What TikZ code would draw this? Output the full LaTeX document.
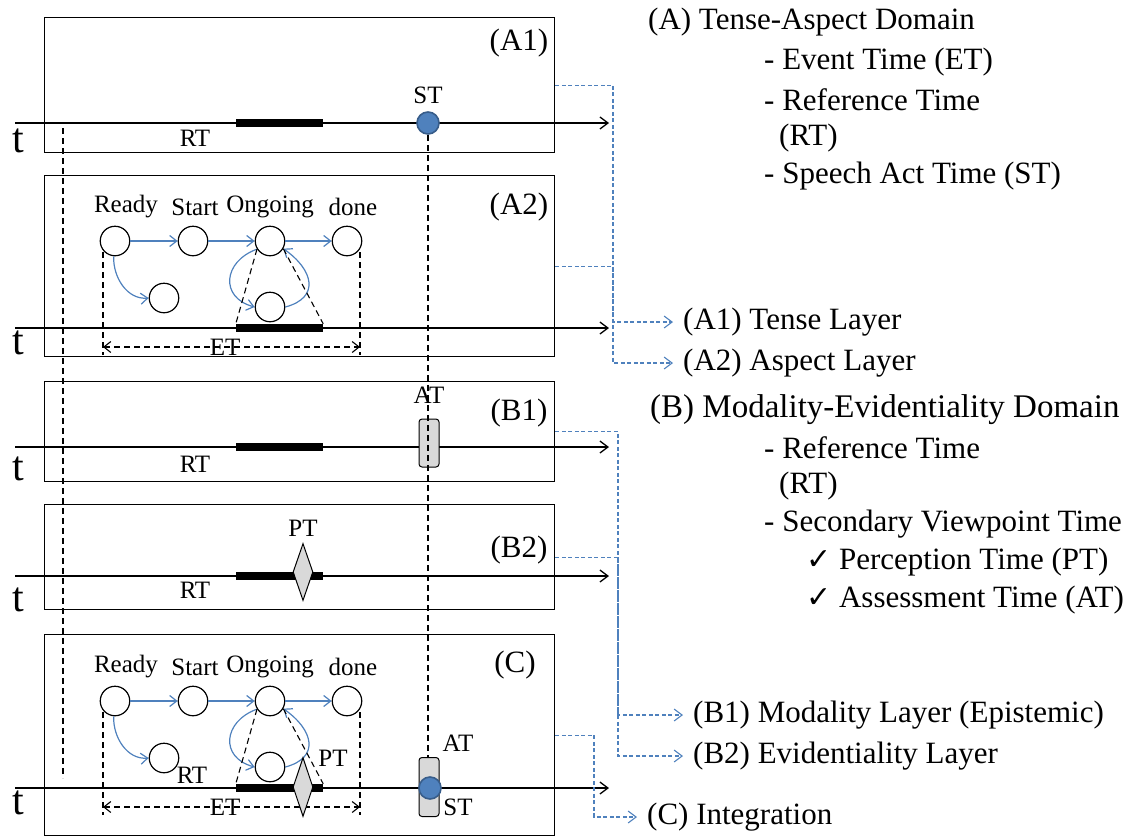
\documentclass[tikz,border=0pt]{standalone}
\usepackage{fontspec}
\setmainfont{Liberation Serif}
\newfontfamily\symfont{DejaVu Sans}
\usetikzlibrary{arrows.meta, positioning, shapes.geometric}
\definecolor{linkblue}{RGB}{79,129,189}
\definecolor{stedge}{RGB}{56,93,138}
\definecolor{markgray}{RGB}{217,217,217}
\tikzset{
    layer/.style = {
      draw=black, line width=1.3pt, minimum width=510pt, inner sep=0, anchor=north west,
    },
    main/.style = {font=\fontsize{31}{36}\selectfont, inner sep=0},
    small/.style = {font=\fontsize{25}{29}\selectfont, inner sep=0},
    tee/.style = {font=\fontsize{42}{46}\selectfont, inner sep=0},
    timeline/.style = {line width=1.3pt, arrows={-Straight Barb[length=8pt, width=12pt]}},
    etbar/.style = {fill=black, inner sep=0, minimum width=87pt, minimum height=8pt},
    state/.style = {circle, draw=black, line width=1.2pt, minimum size=29.5pt, inner sep=0},
    flow/.style = {line width=1.2pt, linkblue, arrows={-Straight Barb[length=7pt, width=11pt]}},
    guide/.style = {line width=1.1pt, dash pattern=on 6pt off 4pt},
    link/.style = {line width=1.1pt, linkblue, dash pattern=on 4pt off 2.5pt,
      arrows={-Straight Barb[length=8pt, width=12pt]}},
    sttime/.style = {circle, fill=linkblue, draw=stedge, line width=1.6pt, minimum size=22pt, inner sep=0},
    attime/.style = {rectangle, rounded corners=3pt, fill=markgray, draw=black, line width=1pt,
      minimum width=20pt, inner sep=0},
    pttime/.style = {diamond, fill=markgray, draw=black, line width=1pt,
      minimum width=20pt, inner sep=0},
    layername/.style = {main, anchor=west, inner xsep=10pt},
}
\newcommand{\tick}{{\symfont\fontsize{30}{34}\selectfont ✓}}
\newcommand{\aspectnet}[2]{%
  %% Draw the aspect states and the event time span:
  %% Arguments:
  %%    1. Name prefix
  %%    2. y of the upper row of states
  \foreach \st/\x/\lx/\txt in {ready/115/126/Ready, start/193/195/Start,
                               ongoing/270/270/Ongoing, done/347/353/done}{%
    \node [state] (#1_\st) at (\x, #2) {};
    \node [small] (#1_\st_label) at (\lx, #2-34) {\txt};
  }
  \node [state] (#1_idle) at (164, #2+57) {};
  \node [state] (#1_loop) at (270, #2+66) {};

  \draw [flow] (#1_ready) -- (#1_start);
  \draw [flow] (#1_start) -- (#1_ongoing);
  \draw [flow] (#1_ongoing) -- (#1_done);
  \draw [flow] (#1_ready.-95) to [out=-92, in=185] (#1_idle.west);
  \draw [flow] (#1_ongoing.212) to [out=200, in=165, looseness=1.6] (#1_loop.west);
  \draw [flow] (#1_loop.east) to [out=15, in=-35, looseness=1.6] (#1_ongoing.-30);

  %% Span of the event time
  \draw [guide] (#1_ongoing.212) -- (#1_bar.north west);
  \draw [guide] (#1_ongoing.-30) -- (#1_bar.north east);
  \coordinate (#1_et_top_l) at (103, #2+11);
  \coordinate (#1_et_bot_l) at (103, #2+114);
  \coordinate (#1_et_top_r) at (360, #2+11);
  \coordinate (#1_et_bot_r) at (360, #2+114);
  \coordinate (#1_et_l) at (103, #2+106);
  \coordinate (#1_et_r) at (360, #2+106);
  \draw [guide] (#1_et_top_l) -- (#1_et_bot_l);
  \draw [guide] (#1_et_top_r) -- (#1_et_bot_r);
  \draw [guide, arrows={Straight Barb[length=7pt, width=11pt]-Straight Barb[length=7pt, width=11pt]}]
    (#1_et_l) -- (#1_et_r) node [small, pos=0.475] (#1_et) {ET};
}

\begin{document}
\begin{tikzpicture}[x=1pt, y=-1pt]
  \useasboundingbox (0,0) rectangle (1138,836);

  %% The five layers
  \node [layer, minimum height=135pt] (A1) at (44,17) {};
  \node [layer, minimum height=181pt] (A2) at (44,175) {};
  \node [layer, minimum height=100pt] (B1) at (44,381) {};
  \node [layer, minimum height=105pt] (B2) at (44,504) {};
  \node [layer, minimum height=201pt] (C) at (44,634) {};
  \node [main] (A1_name) at (519,43) {(A1)};
  \node [main] (A2_name) at (519,207) {(A2)};
  \node [main] (B1_name) at (519,413) {(B1)};
  \node [main] (B2_name) at (519,550) {(B2)};
  \node [main] (C_name) at (515,665) {(C)};

  %% Time axes with the reference time bars
  \foreach \lay/\y/\ty in {A1/123/141, A2/328/343, B1/447/469, B2/576/600, C/788/803}{%
    \coordinate (\lay_start) at (15,\y);
    \coordinate (\lay_end) at (609,\y);
    \draw [timeline] (\lay_start) -- (\lay_end);
    \node [tee] (\lay_t) at (18,\ty) {t};
    \node [etbar] (\lay_bar) at (279.5,\y) {};
  }
  \node [small] (A1_rt) at (195,138) {RT};
  \node [small] (B1_rt) at (195,464) {RT};
  \node [small] (B2_rt) at (195,590) {RT};
  \node [small] (C_rt) at (192,775) {RT};

  %% Aspect nets
  \aspectnet{A2}{241}
  \aspectnet{C}{701}

  %% Speech act, assessment and perception times
  \node [sttime] (A1_st) at (428,123) {};
  \node [small, above=7pt of A1_st] (A1_st_label) {ST};
  \node [attime, minimum height=48pt] (B1_at) at (429,443) {};
  \node [small, above=15pt of B1_at] (B1_at_label) {AT};
  \node [pttime, minimum height=57pt] (B2_pt) at (303,572) {};
  \node [small, above=6pt of B2_pt] (B2_pt_label) {PT};
  \node [pttime, minimum height=59pt] (C_pt) at (303,787) {};
  \node [small] (C_pt_label) at (333,758) {PT};
  \node [attime, minimum height=59pt] (C_at) at (429,787) {};
  \node [sttime] (C_st) at (430,788) {};
  \node [small] (C_at_label) at (458,743) {AT};
  \node [small] (C_st_label) at (458,807) {ST};

  %% Guides running through the layers
  \coordinate (rt_top) at (63,128);
  \coordinate (rt_bot) at (63,778);
  \draw [guide] (rt_top) -- (rt_bot);
  \draw [guide] (A1_st.south) -- (A1_st.south |- C_at.north);

  %% Legend on the right
  \node [main, anchor=west] (A_dom) at (648,22) {(A) Tense-Aspect Domain};
  \node [main, anchor=west] (A_et) at (764,62) {- Event Time (ET)};
  \node [main, anchor=west] (A_rt) at (764,100) {- Reference Time};
  \node [main, anchor=west] (A_rt2) at (779,138) {(RT)};
  \node [main, anchor=west] (A_st) at (764,176) {- Speech Act Time (ST)};
  \node [main, anchor=west, font=\fontsize{33}{38}\selectfont] (B_dom) at (650,410) {(B) Modality-Evidentiality Domain};
  \node [main, anchor=west] (B_rt) at (764,448) {- Reference Time};
  \node [main, anchor=west] (B_rt2) at (779,486) {(RT)};
  \node [main, anchor=west] (B_svt) at (764,524) {- Secondary Viewpoint Time};
  \node [main, anchor=west] (B_pt) at (806,562) {\tick\ Perception Time (PT)};
  \node [main, anchor=west] (B_at) at (806,600) {\tick\ Assessment Time (AT)};

  \node [layername] (A1_layer) at (673,322) {(A1) Tense Layer};
  \node [layername] (A2_layer) at (673,363) {(A2) Aspect Layer};
  \node [layername] (B1_layer) at (683,715) {(B1) Modality Layer (Epistemic)};
  \node [layername] (B2_layer) at (683,756) {(B2) Evidentiality Layer};
  \node [layername] (C_layer) at (637,817) {(C) Integration};

  %% Links from the layers to their names
  \coordinate (A_bus) at (613,0);
  \coordinate (B_bus) at (618,0);
  \coordinate (C_bus) at (594,0);
  \draw [link] (A1.east) -| (A_bus |- A1_layer) -- (A1_layer.west);
  \draw [link] (A2.east) -| (A_bus |- A2_layer) -- (A2_layer.west);
  \draw [link] (B1.east) -| (B_bus |- B1_layer) -- (B1_layer.west);
  \draw [link] (B2.east) -| (B_bus |- B2_layer) -- (B2_layer.west);
  \draw [link] (C.east) -| (C_bus |- C_layer) -- (C_layer.west);
\end{tikzpicture}
\end{document}
